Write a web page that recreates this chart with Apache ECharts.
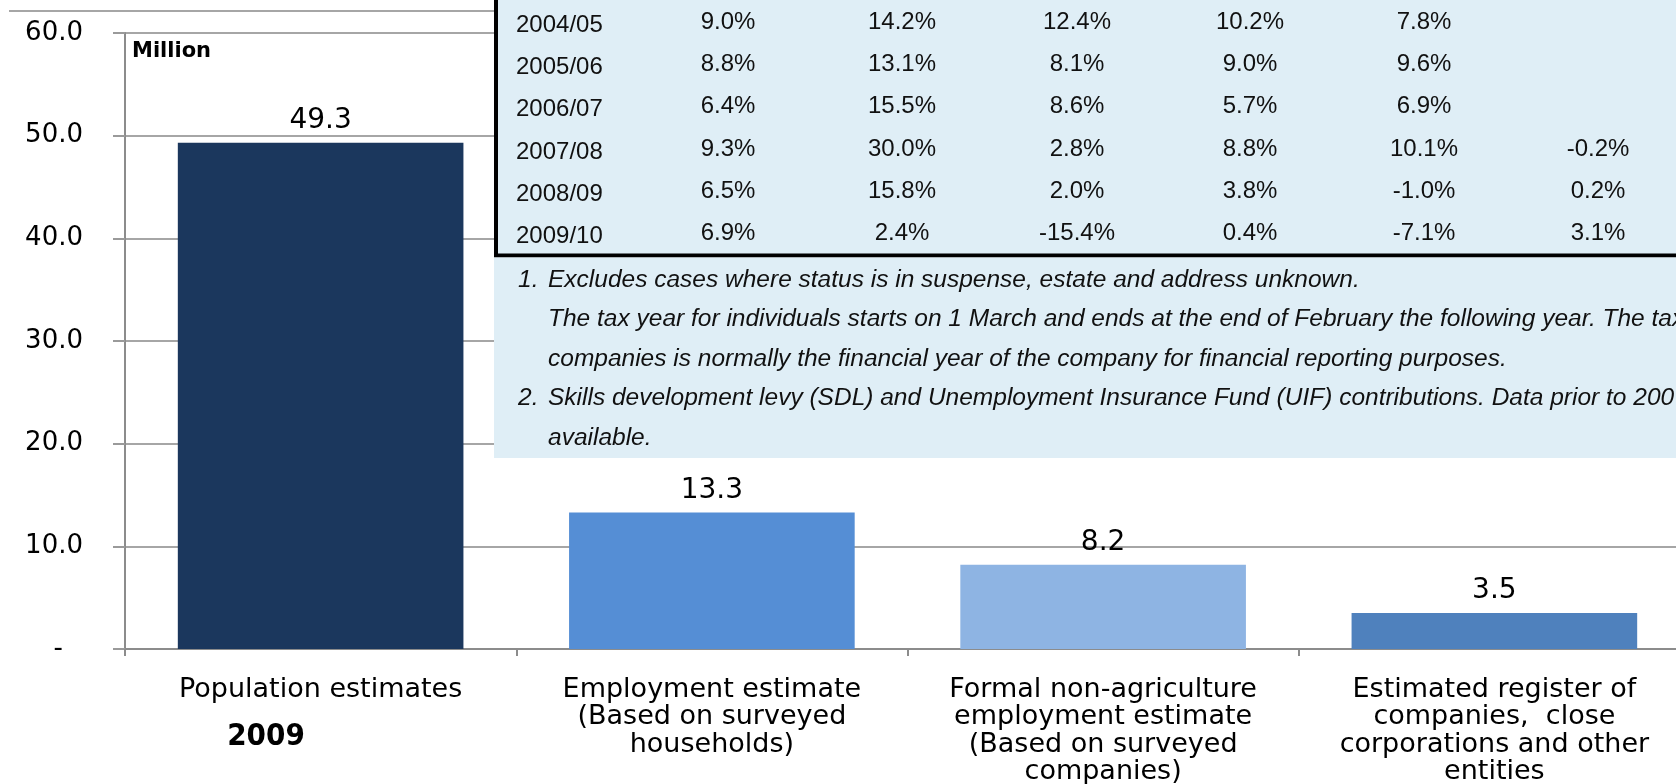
<!DOCTYPE html>
<html style="height: 100%;width: 100%">
<head>
    <meta charset="utf-8">
    <script src="https://cdn.jsdelivr.net/npm/echarts@6/dist/echarts.min.js"></script>
    <style>
        html, body { margin: 0; padding: 0; background: #fff; }
        #container { width: 1676px; height: 784px; }
    </style>
</head>
<body>
<div id="container"></div>
<script type="text/javascript">

// bar chart data (million)
var categories = [
    'Population estimates',
    'Employment estimate\n(Based on surveyed\nhouseholds)',
    'Formal non-agriculture\nemployment estimate\n(Based on surveyed\ncompanies)',
    'Estimated register of\ncompanies,  close\ncorporations and other\nentities'
];
var values = [49.3, 13.3, 8.2, 3.5];
var barColors = ['#1B375D', '#558ED5', '#8EB4E3', '#4F81BD'];

// growth table overlaid on the chart
var tableYears = ['2004/05', '2005/06', '2006/07', '2007/08', '2008/09', '2009/10'];
var tableCol1 = ['9.0%', '8.8%', '6.4%', '9.3%', '6.5%', '6.9%'];
var tableCol2 = ['14.2%', '13.1%', '15.5%', '30.0%', '15.8%', '2.4%'];
var tableCol3 = ['12.4%', '8.1%', '8.6%', '2.8%', '2.0%', '-15.4%'];
var tableCol4 = ['10.2%', '9.0%', '5.7%', '8.8%', '3.8%', '0.4%'];
var tableCol5 = ['7.8%', '9.6%', '6.9%', '10.1%', '-1.0%', '-7.1%'];
var tableCol6 = ['', '', '', '-0.2%', '0.2%', '3.1%'];

var notes = [
    ['1.', 'Excludes cases where status is in suspense, estate and address unknown.'],
    ['', 'The tax year for individuals starts on 1 March and ends at the end of February the following year. The tax year for'],
    ['', 'companies is normally the financial year of the company for financial reporting purposes.'],
    ['2.', 'Skills development levy (SDL) and Unemployment Insurance Fund (UIF) contributions. Data prior to 2007/08 not'],
    ['', 'available.']
];

var dom = document.getElementById('container');
var myChart = echarts.init(dom);

var tableBg = '#DFEEF6';
var graphics = [];

// grey top rule
graphics.push({
    type: 'line', z: 100,
    shape: { x1: 9, y1: 11, x2: 494, y2: 11 },
    style: { stroke: '#A6A6A6', lineWidth: 2 }
});

// table box
graphics.push({
    type: 'rect', z: 100,
    shape: { x: 496, y: -10, width: 1300, height: 265.5 },
    style: { fill: tableBg, stroke: '#000', lineWidth: 4 }
});
// notes box
graphics.push({
    type: 'rect', z: 100,
    shape: { x: 494, y: 257.5, width: 1300, height: 200.5 },
    style: { fill: tableBg }
});

var cols = [tableCol1, tableCol2, tableCol3, tableCol4, tableCol5, tableCol6];
var colX = [728, 902, 1077, 1250, 1424, 1598];
for (var r = 0; r < tableYears.length; r++) {
    var rowY = 22 + r * 42.3;
    graphics.push({
        type: 'text', z: 101, x: 516, y: rowY + 3,
        style: { text: tableYears[r], fontFamily: 'Liberation Sans', fontSize: 24, fill: '#111', align: 'left', verticalAlign: 'middle' }
    });
    for (var c = 0; c < cols.length; c++) {
        if (!cols[c][r]) continue;
        graphics.push({
            type: 'text', z: 101, x: colX[c], y: rowY,
            style: { text: cols[c][r], fontFamily: 'Liberation Sans', fontSize: 24, fill: '#111', align: 'center', verticalAlign: 'middle' }
        });
    }
}

for (var n = 0; n < notes.length; n++) {
    var ny = 280 + n * 39.5;
    if (notes[n][0]) {
        graphics.push({
            type: 'text', z: 101, x: 518, y: ny,
            style: { text: notes[n][0], fontFamily: 'Liberation Sans', fontStyle: 'italic', fontSize: 24.5, fill: '#111', align: 'left', verticalAlign: 'middle' }
        });
    }
    graphics.push({
        type: 'text', z: 101, x: 548, y: ny,
        style: { text: notes[n][1], fontFamily: 'Liberation Sans', fontStyle: 'italic', fontSize: 24.5, fill: '#111', align: 'left', verticalAlign: 'middle' }
    });
}

graphics.push({
    type: 'text', z: 101, x: 132, y: 52,
    style: { text: 'Million', fontFamily: 'DejaVu Sans', fontWeight: 'bold', fontSize: 21, fill: '#000', align: 'left', verticalAlign: 'middle' }
});
graphics.push({
    type: 'text', z: 101, x: 266, y: 737,
    style: { text: '2009', fontFamily: '"Liberation Sans Narrow", "DejaVu Sans Condensed", "Liberation Sans"', fontWeight: 'bold', fontSize: 31, fill: '#000', align: 'center', verticalAlign: 'middle' }
});

var option = {
    animation: false,
    backgroundColor: '#fff',
    grid: { left: 125, width: 1565, top: 33, bottom: 135, containLabel: false, outerBoundsMode: 'none' },
    xAxis: {
        type: 'category',
        data: categories,
        axisLine: { show: true, lineStyle: { color: '#8C8C8C', width: 2 } },
        axisTick: { show: true, length: 7, lineStyle: { color: '#8C8C8C', width: 2 } },
        axisLabel: {
            interval: 0, margin: 27, color: '#000',
            fontFamily: 'DejaVu Sans', fontSize: 27, lineHeight: 27.5
        }
    },
    yAxis: {
        type: 'value',
        min: 0, max: 60, interval: 10,
        axisLine: { show: true, lineStyle: { color: '#8C8C8C', width: 2 } },
        axisTick: { show: true, length: 12, lineStyle: { color: '#9A9A9A', width: 2 } },
        splitLine: { show: true, lineStyle: { color: '#A6A6A6', width: 2 } },
        axisLabel: {
            margin: 42, color: '#000', fontFamily: 'DejaVu Sans', fontSize: 26,
            formatter: function (v) { return v === 0 ? '{d|-}' : v.toFixed(1); },
            rich: { d: { padding: [0, 20, 0, 0], fontFamily: 'DejaVu Sans', fontSize: 26, color: '#000' } }
        }
    },
    series: [{
        type: 'bar',
        barCategoryGap: '27%',
        data: values.map(function (v, i) {
            return { value: v, itemStyle: { color: barColors[i] } };
        }),
        label: {
            show: true, position: 'top', distance: 8,
            color: '#000', fontFamily: 'DejaVu Sans', fontSize: 28,
            formatter: function (p) { return p.value.toFixed(1); }
        }
    }],
    graphic: graphics
};

myChart.setOption(option);
</script>
</body>
</html>
